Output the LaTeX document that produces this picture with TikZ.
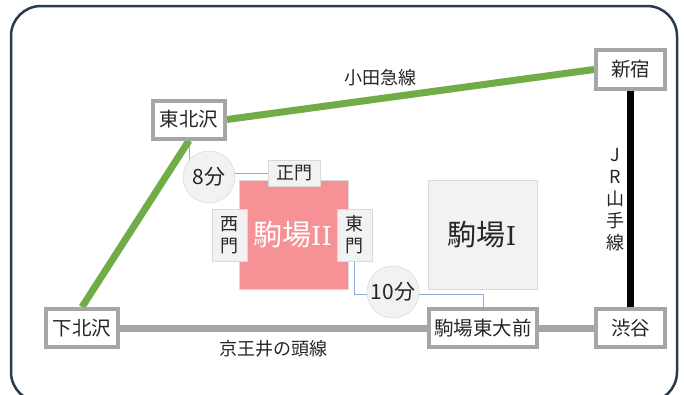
\documentclass[tikz,border=0pt]{standalone}
\usepackage{fontspec}
\setmainfont{Noto Sans CJK JP}
\newfontfamily\romanfont{DejaVu Serif}
\newcommand{\fs}[1]{\fontsize{#1}{#1}\selectfont}
\newcommand{\rn}[1]{{\romanfont\fs{26}#1}}
\pgfdeclarelayer{back}
\pgfdeclarelayer{lines}
\pgfsetlayers{back,lines,main}
\definecolor{framec}{HTML}{2B3A4E}
\definecolor{stgray}{HTML}{A6A6A6}
\definecolor{lgreen}{HTML}{70AD47}
\definecolor{txt}{HTML}{262626}
\definecolor{gateb}{HTML}{D9D9D9}
\definecolor{gatef}{HTML}{F2F2F2}
\definecolor{walkc}{HTML}{8FAADC}
\definecolor{pinkc}{HTML}{F69296}
\tikzset{
  frame/.style={draw=framec,line width=2.5pt,rounded corners=30pt,fill=white,inner sep=0pt},
  station/.style={draw=stgray,line width=4pt,fill=white,inner sep=0pt,text=txt,font=\fs{19.5}},
  gate/.style={draw=gateb,line width=0.7pt,fill=gatef,inner sep=0pt,text=txt,font=\fs{18},align=center},
  time/.style={circle,draw=gateb,line width=0.5pt,fill=gatef,inner sep=0pt,minimum size=52pt,text=txt,font=\fs{21}},
  hall/.style={inner sep=0pt,minimum width=109pt,minimum height=109pt,line width=0.7pt},
  green line/.style={line width=7pt,draw=lgreen},
  gray line/.style={line width=7pt,draw=stgray},
  black line/.style={line width=7pt,draw=black},
  walk/.style={line width=0.9pt,draw=walkc},
  linelabel/.style={inner sep=0pt,text=txt,font=\fs{18}}
}
\begin{document}
\begin{tikzpicture}[x=1pt,y=-1pt]
\useasboundingbox (0,0) rectangle (684,394);
\begin{pgfonlayer}{back}
\fill[white] (0,0) rectangle (684,394);
\node[frame,minimum width=666pt,minimum height=396pt] (frame) at (344,204) {};
\end{pgfonlayer}
% halls
\node[hall,fill=pinkc,draw=gateb] (k2) at (293.5,234.5) {};
\node[hall,fill=gatef,draw=gateb] (k1) at (482.5,234.5) {};
\node[inner sep=0pt,text=txt,font=\fs{29}] (k1label) at (482,235) {駒場\rn{I}};
\node[inner sep=0pt,text=white,font=\fs{29}] (k2label) at (292.5,235) {駒場\rn{II}};
% stations
\node[station,minimum width=72pt,minimum height=38pt] (tohoku) at (189,119.5) {東北沢};
\node[station,minimum width=69pt,minimum height=39pt] (shinjuku) at (630.5,69.5) {新宿};
\node[station,minimum width=69pt,minimum height=38pt] (shibuya) at (630.5,328) {渋谷};
\node[station,minimum width=108pt,minimum height=38pt] (komaba) at (483,328) {駒場東大前};
\node[station,minimum width=72pt,minimum height=38pt] (shimo) at (82,328) {下北沢};
% gates and circles
\node[gate,minimum width=52pt,minimum height=26pt] (seimon) at (294,173) {正門};
\node[gate,minimum width=35pt,minimum height=52pt] (nishi) at (229.5,235) {西\\[4pt]門};
\node[gate,minimum width=35pt,minimum height=52pt] (higashi) at (354.5,235) {東\\[4pt]門};
\node[time] (t8) at (209,177) {8分};
\node[time] (t10) at (393,292) {10分};
\coordinate (bend1) at (354.5,294);
\coordinate (bend2) at (483,294);
% connectors
\begin{pgfonlayer}{lines}
\draw[walk] (tohoku.south) |- (t8.center);
\draw[walk] (t8.center |- seimon.west) -- (seimon.west);
\draw[walk] (higashi.south) -- (bend1) -- (t10.center |- bend1);
\draw[walk] (t10.center |- bend2) -- (bend2) -- (komaba.north);
\draw[green line] (tohoku.east) -- (shinjuku.west);
\draw[green line] (tohoku.south) -- (shimo.north);
\draw[gray line] (shimo.east) -- (komaba.west);
\draw[gray line] (komaba.east) -- (shibuya.west);
\draw[black line] (shinjuku.south) -- (shibuya.north);
\end{pgfonlayer}
% line labels
\node[linelabel] (odakyu) at (380.5,78) {小田急線};
\node[linelabel] (keio) at (273,348.5) {京王井の頭線};
\node[linelabel,align=center] (jr) at (615,200) {J\\[4pt]R\\[4pt]山\\[4pt]手\\[4pt]線};
\end{tikzpicture}
\end{document}
